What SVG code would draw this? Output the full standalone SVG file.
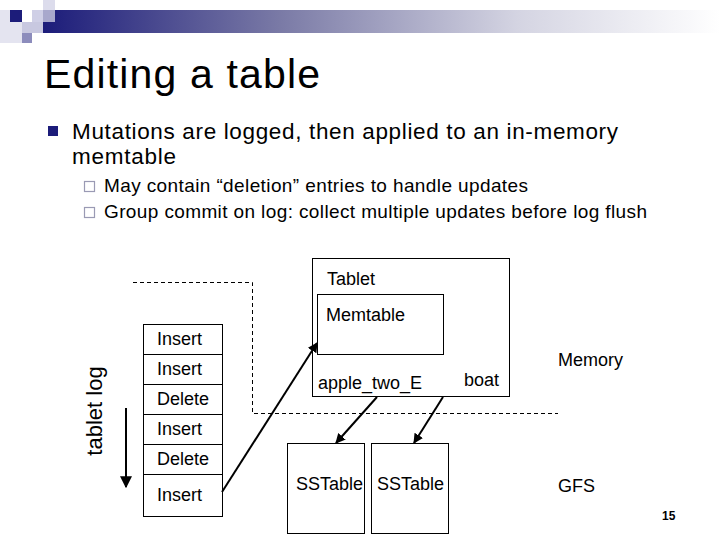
<svg xmlns="http://www.w3.org/2000/svg" width="720" height="540" viewBox="0 0 720 540">
<defs>
<linearGradient id="bar" x1="0" y1="0" x2="1" y2="0">
<stop offset="0" stop-color="#1c1c7a"/>
<stop offset="0.35" stop-color="#7a7aa6"/>
<stop offset="0.7" stop-color="#d4d4e2"/>
<stop offset="1" stop-color="#ffffff"/>
</linearGradient>
<marker id="ah" viewBox="0 0 10 10" refX="9" refY="5" markerWidth="5" markerHeight="5" orient="auto" markerUnits="strokeWidth">
<path d="M0,0 L10,5 L0,10 z" fill="#000"/>
</marker>
<marker id="ah2" viewBox="0 0 10 10" refX="9" refY="5" markerWidth="6" markerHeight="6" orient="auto" markerUnits="strokeWidth">
<path d="M0,0 L10,5 L0,10 z" fill="#000"/>
</marker>
</defs>
<style>
text{font-family:"Liberation Sans",Arial,sans-serif;fill:#000}
.lbl{font-size:18px}
.box{fill:#fff;stroke:#000;stroke-width:1}
.dash{fill:none;stroke:#000;stroke-width:1;stroke-dasharray:4,3}
.con{fill:none;stroke:#000;stroke-width:2}
</style>
<rect width="720" height="540" fill="#fff"/>
<g id="header">
<rect x="43" y="10" width="677" height="23" fill="url(#bar)"/>
<rect x="0" y="10" width="10" height="33" fill="#e4e4f0"/>
<rect x="0" y="22" width="22" height="21" fill="#e4e4f0"/>
<rect x="10" y="10" width="12" height="12" fill="#1c1c7a"/>
<rect x="32" y="10" width="11" height="12" fill="#cfcfe6"/>
<rect x="43" y="0" width="12" height="10" fill="#dcdcec"/>
<rect x="43" y="10" width="12" height="12" fill="#a8a8cc"/>
<rect x="22" y="22" width="21" height="11" fill="#c8c8e0"/>
<rect x="22" y="33" width="10" height="10" fill="#8c8cbc"/>
</g>
<g id="title">
<text x="44" y="88" font-size="41" textLength="276" lengthAdjust="spacing">Editing a table</text>
</g>
<g id="bullets">
<rect x="48" y="126" width="10" height="10" fill="#1c1c7a"/>
<text x="72" y="139" font-size="22.5" textLength="546" lengthAdjust="spacing">Mutations are logged, then applied to an in-memory</text>
<text x="72" y="164" font-size="22.5" textLength="104" lengthAdjust="spacing">memtable</text>
<rect x="84.5" y="181.5" width="10" height="10" fill="none" stroke="#9a9ab4" stroke-width="1.2"/>
<text x="104" y="192" font-size="19" textLength="424" lengthAdjust="spacing">May contain “deletion” entries to handle updates</text>
<rect x="84.5" y="207.5" width="10" height="10" fill="none" stroke="#9a9ab4" stroke-width="1.2"/>
<text x="104" y="218" font-size="19" textLength="543" lengthAdjust="spacing">Group commit on log: collect multiple updates before log flush</text>
</g>
<g id="memory-boundary">
<path class="dash" d="M133,282.5 H252.5 V413.5 H558"/>
<text x="558" y="366" class="lbl">Memory</text>
<text x="558" y="492" class="lbl">GFS</text>
</g>
<g id="tablet">
<rect class="box" x="312.5" y="258.5" width="197" height="138"/>
<text x="327" y="285" class="lbl">Tablet</text>
<text x="318" y="389" class="lbl">apple_two_E</text>
<text x="464" y="386" class="lbl">boat</text>
</g>
<g id="memtable">
<rect class="box" x="317.5" y="294.5" width="126" height="60"/>
<text x="326" y="321" class="lbl">Memtable</text>
</g>
<g id="tablet-log">
<rect class="box" x="143.5" y="324.5" width="79" height="30"/>
<rect class="box" x="143.5" y="354.5" width="79" height="30"/>
<rect class="box" x="143.5" y="384.5" width="79" height="30"/>
<rect class="box" x="143.5" y="414.5" width="79" height="30"/>
<rect class="box" x="143.5" y="444.5" width="79" height="30"/>
<rect class="box" x="143.5" y="474.5" width="79" height="42"/>
<text x="157" y="345" class="lbl">Insert</text>
<text x="157" y="375" class="lbl">Insert</text>
<text x="157" y="405" class="lbl">Delete</text>
<text x="157" y="435" class="lbl">Insert</text>
<text x="157" y="465" class="lbl">Delete</text>
<text x="157" y="501" class="lbl">Insert</text>
<text transform="translate(102,411) rotate(-90)" text-anchor="middle" font-size="22">tablet log</text>
</g>
<g id="sstable1">
<rect class="box" x="287.5" y="443.5" width="77" height="90"/>
<text x="296" y="490" class="lbl">SSTable</text>
</g>
<g id="sstable2">
<rect class="box" x="371.5" y="443.5" width="77" height="90"/>
<text x="377" y="490" class="lbl">SSTable</text>
</g>
<g id="page-number">
<text x="662" y="520" font-size="12" font-weight="bold">15</text>
</g>
<g id="connectors">
<line class="con" x1="126" y1="408" x2="126" y2="487" stroke-width="1.5" marker-end="url(#ah2)"/>
<line class="con" x1="222" y1="492" x2="317" y2="343" marker-end="url(#ah)"/>
<line class="con" x1="377" y1="397" x2="336" y2="443" marker-end="url(#ah)"/>
<line class="con" x1="443" y1="397" x2="414" y2="443" marker-end="url(#ah)"/>
</g>
</svg>
